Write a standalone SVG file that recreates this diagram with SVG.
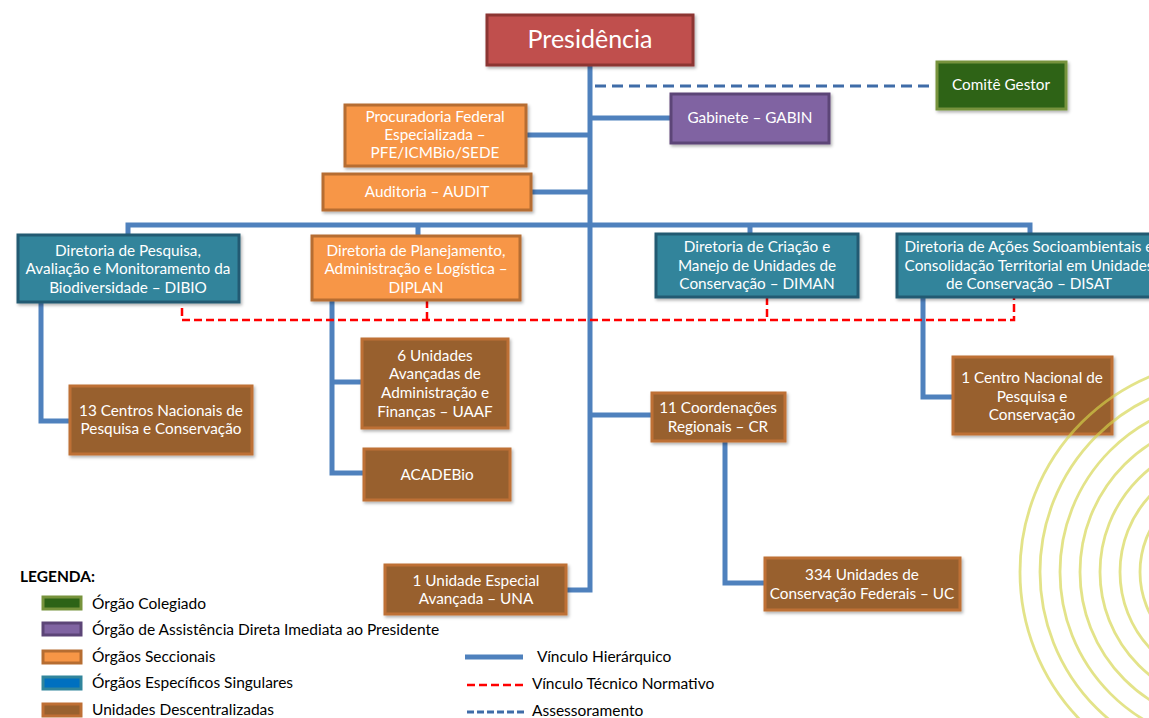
<svg xmlns="http://www.w3.org/2000/svg" width="1149" height="718" viewBox="0 0 1149 718">
<defs>
<style>
.t{font-family:Lato,"Open Sans","Liberation Sans",sans-serif;font-size:15.3px;fill:#fff;text-anchor:middle}
.lg{font-family:Lato,"Open Sans","Liberation Sans",sans-serif;font-size:15.5px;fill:#000}
.h{fill:none;stroke:#4F81BD;stroke-width:5;stroke-linejoin:miter}
.r{fill:none;stroke:#FF0000;stroke-width:2.5;stroke-dasharray:8 4}
.a{fill:none;stroke:#3F6CA8;stroke-width:3;stroke-dasharray:11 6}
.red{fill:#C0504D;stroke:#8C3432;stroke-width:3}
.grn{fill:#2D6317;stroke:#77933C;stroke-width:3}
.pur{fill:#8064A2;stroke:#5C4577;stroke-width:3}
.org{fill:#F79646;stroke:#B66D31;stroke-width:3}
.teal{fill:#31849B;stroke:#235A72;stroke-width:3}
.brn{fill:#98612F;stroke:#BE6F34;stroke-width:3}
.ring{fill:none;stroke:#D4D44A;stroke-width:2.8;opacity:0.65}
</style>
<filter id="sh" x="-10%" y="-10%" width="130%" height="140%">
<feDropShadow dx="1.5" dy="2" stdDeviation="1.5" flood-color="#000" flood-opacity="0.3"/>
</filter>
</defs>
<rect width="1149" height="718" fill="#fff"/>

<g id="connectors">
<path class="h" d="M590,65 V590 H566"/>
<path class="h" d="M590,118 H671"/>
<path class="h" d="M526,135 H590"/>
<path class="h" d="M531,192 H590"/>
<path class="h" d="M128,235 V225 H1030 V235"/>
<path class="h" d="M418,225 V237"/>
<path class="h" d="M750,225 V235"/>
<path class="h" d="M41,302 V421 H70"/>
<path class="h" d="M332,300 V473 H364"/>
<path class="h" d="M332,382 H362"/>
<path class="h" d="M923,297 V397 H953"/>
<path class="h" d="M590,415 H652"/>
<path class="h" d="M725,441 V583 H765"/>
<path class="a" d="M595,86 H935"/>
<path class="r" d="M182,308 V320 H1014 V297"/>
<path class="r" d="M427,300 V320"/>
<path class="r" d="M767,297 V320"/>
</g>

<g id="presidencia"><rect class="red" x="487" y="15" width="206" height="50" filter="url(#sh)"/><text class="t" x="590" y="48" style="font-size:25px">Presidência</text></g>
<g id="comite"><rect class="grn" x="937" y="62" width="129" height="47" filter="url(#sh)"/><text class="t" x="1001" y="90">Comitê Gestor</text></g>
<g id="gabin"><rect class="pur" x="671" y="94" width="158" height="49" filter="url(#sh)"/><text class="t" x="750" y="123">Gabinete – GABIN</text></g>
<g id="pfe"><rect class="org" x="345" y="105" width="181" height="61" filter="url(#sh)"/><text class="t" x="435" y="122">Procuradoria Federal</text><text class="t" x="435" y="140">Especializada –</text><text class="t" x="435" y="158">PFE/ICMBio/SEDE</text></g>
<g id="audit"><rect class="org" x="323" y="174" width="208" height="36" filter="url(#sh)"/><text class="t" x="427" y="197">Auditoria – AUDIT</text></g>
<g id="dibio"><rect class="teal" x="18" y="235" width="221" height="67" filter="url(#sh)"/><text class="t" x="128" y="256">Diretoria de Pesquisa,</text><text class="t" x="128" y="274">Avaliação e Monitoramento da</text><text class="t" x="128" y="293">Biodiversidade – DIBIO</text></g>
<g id="diplan"><rect class="org" x="312" y="236" width="208" height="64" filter="url(#sh)"/><text class="t" x="416" y="256">Diretoria de Planejamento,</text><text class="t" x="416" y="274">Administração e Logística –</text><text class="t" x="416" y="293">DIPLAN</text></g>
<g id="diman"><rect class="teal" x="656" y="234" width="202" height="63" filter="url(#sh)"/><text class="t" x="757" y="252">Diretoria de Criação e</text><text class="t" x="757" y="271">Manejo de Unidades de</text><text class="t" x="757" y="289">Conservação – DIMAN</text></g>
<g id="disat"><rect class="teal" x="897" y="234" width="264" height="63" filter="url(#sh)"/><text class="t" x="1029" y="252">Diretoria de Ações Socioambientais e</text><text class="t" x="1029" y="271">Consolidação Territorial em Unidades</text><text class="t" x="1029" y="289">de Conservação – DISAT</text></g>
<g id="centros13"><rect class="brn" x="70" y="386" width="182" height="68" filter="url(#sh)"/><text class="t" x="161" y="416">13 Centros Nacionais de</text><text class="t" x="161" y="434">Pesquisa e Conservação</text></g>
<g id="uaaf"><rect class="brn" x="362" y="339" width="146" height="89" filter="url(#sh)"/><text class="t" x="435" y="361">6 Unidades</text><text class="t" x="435" y="379">Avançadas de</text><text class="t" x="435" y="398">Administração e</text><text class="t" x="435" y="417">Finanças – UAAF</text></g>
<g id="acadebio"><rect class="brn" x="364" y="449" width="146" height="51" filter="url(#sh)"/><text class="t" x="437" y="480">ACADEBio</text></g>
<g id="cr"><rect class="brn" x="652" y="393" width="133" height="48" filter="url(#sh)"/><text class="t" x="718" y="413">11 Coordenações</text><text class="t" x="718" y="432">Regionais – CR</text></g>
<g id="centro1"><rect class="brn" x="953" y="357" width="159" height="77" filter="url(#sh)"/><text class="t" x="1032" y="383">1 Centro Nacional de</text><text class="t" x="1032" y="402">Pesquisa e</text><text class="t" x="1032" y="420">Conservação</text></g>
<g id="uc"><rect class="brn" x="765" y="558" width="195" height="52" filter="url(#sh)"/><text class="t" x="862" y="580">334 Unidades de</text><text class="t" x="862" y="599">Conservação Federais – UC</text></g>
<g id="una"><rect class="brn" x="385" y="565" width="181" height="49" filter="url(#sh)"/><text class="t" x="476" y="586">1 Unidade Especial</text><text class="t" x="476" y="604">Avançada – UNA</text></g>

<g id="rings">
<circle class="ring" cx="1232" cy="572" r="212"/>
<circle class="ring" cx="1232" cy="572" r="192"/>
<circle class="ring" cx="1232" cy="572" r="172"/>
<circle class="ring" cx="1232" cy="572" r="152"/>
<circle class="ring" cx="1232" cy="572" r="132"/>
<circle class="ring" cx="1232" cy="572" r="112"/>
<circle class="ring" cx="1232" cy="572" r="92"/>
</g>

<g id="legend">
<text class="lg" x="20" y="582" style="font-weight:bold;font-size:15.5px">LEGENDA:</text>
<rect class="grn" x="43" y="597" width="38" height="12"/><text class="lg" x="92" y="609">Órgão Colegiado</text>
<rect class="pur" x="43" y="623" width="38" height="12"/><text class="lg" x="92" y="635">Órgão de Assistência Direta Imediata ao Presidente</text>
<rect class="org" x="43" y="651" width="38" height="12"/><text class="lg" x="92" y="662">Órgãos Seccionais</text>
<rect x="43" y="677" width="38" height="12" fill="#0070C0" stroke="#31859C" stroke-width="3"/><text class="lg" x="92" y="688">Órgãos Específicos Singulares</text>
<rect class="brn" x="43" y="704" width="38" height="12"/><text class="lg" x="92" y="715">Unidades Descentralizadas</text>
<line class="h" x1="465" y1="657" x2="523" y2="657"/><text class="lg" x="537" y="662">Vínculo Hierárquico</text>
<line class="r" x1="467" y1="685" x2="524" y2="685"/><text class="lg" x="532" y="689">Vínculo Técnico Normativo</text>
<line class="a" x1="467" y1="712" x2="524" y2="712" style="stroke-dasharray:7 3"/><text class="lg" x="532" y="716">Assessoramento</text>
</g>
</svg>
